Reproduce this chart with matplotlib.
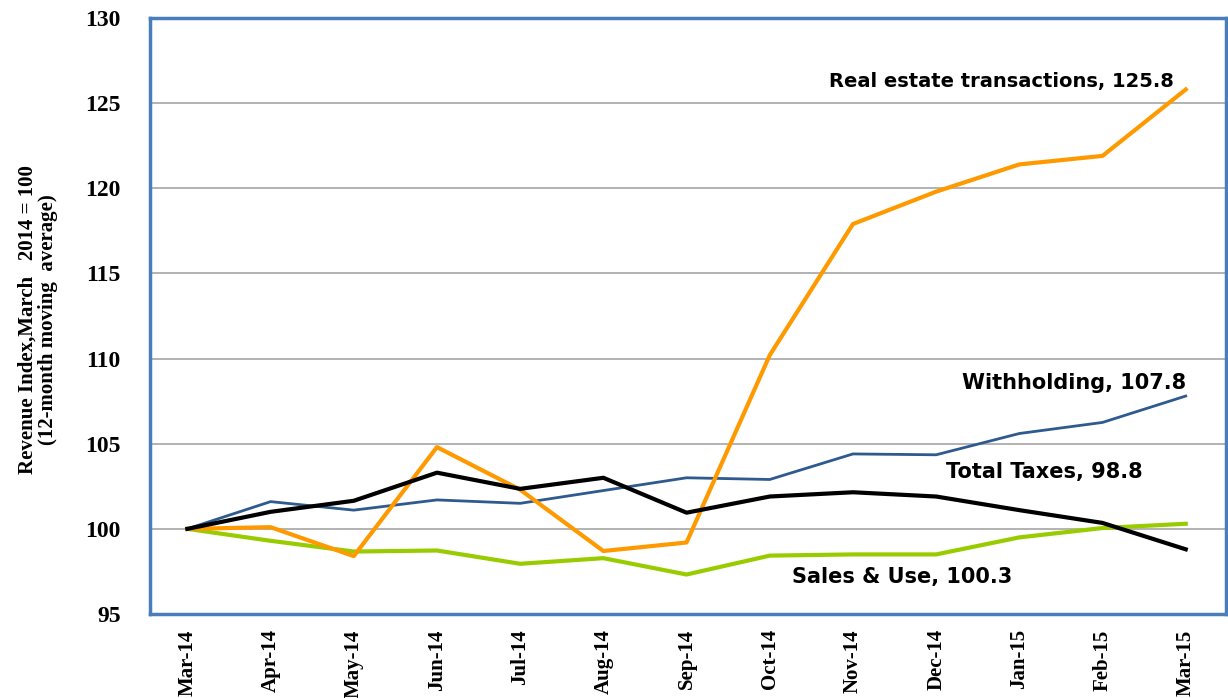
import matplotlib
matplotlib.use("Agg")
import matplotlib.pyplot as plt

months = ["Mar-14", "Apr-14", "May-14", "Jun-14", "Jul-14", "Aug-14", "Sep-14",
          "Oct-14", "Nov-14", "Dec-14", "Jan-15", "Feb-15", "Mar-15"]
real_estate = [100.0, 100.1, 98.4, 104.8, 102.3, 98.7, 99.2, 110.2, 117.9, 119.8, 121.4, 121.9, 125.8]
withholding = [100.0, 101.6, 101.1, 101.7, 101.5, 102.25, 103.0, 102.9, 104.4, 104.35, 105.6, 106.25, 107.8]
total_taxes = [100.0, 101.0, 101.65, 103.3, 102.35, 103.0, 100.95, 101.9, 102.15, 101.9, 101.1, 100.35, 98.8]
sales_use = [100.0, 99.3, 98.67, 98.73, 97.95, 98.28, 97.32, 98.43, 98.5, 98.5, 99.5, 100.05, 100.3]
y_ticks = [95, 100, 105, 110, 115, 120, 125, 130]

fig = plt.figure(figsize=(12.28, 6.98), dpi=100)
ax = fig.add_axes([0.1221, 0.1203, 0.876, 0.854])
x = list(range(len(months)))

ax.plot(x, withholding, color="#2E5A8E", lw=2.0, zorder=3)
ax.plot(x, sales_use, color="#99CC00", lw=3.0, zorder=3)
ax.plot(x, real_estate, color="#FF9900", lw=3.0, zorder=4)
ax.plot(x, total_taxes, color="#000000", lw=3.0, zorder=5)

ax.set_xlim(-0.45, 12.48)
ax.set_ylim(95, 130)
ax.set_yticks(y_ticks)
ax.set_xticks(x)
ax.set_xticklabels(months, rotation=90, fontfamily="Liberation Serif", fontweight="bold", fontsize=15)
ax.set_yticklabels([str(t) for t in y_ticks], fontfamily="Liberation Serif", fontweight="bold", fontsize=17)
ax.tick_params(axis="y", length=0, pad=21)
ax.tick_params(axis="x", length=0, pad=11)
ax.grid(axis="y", color="#A6A6A6", lw=1.2)
ax.set_axisbelow(True)
for s in ax.spines.values():
    s.set_color("#4A7EBB")
    s.set_linewidth(2.5)

fig.text(38 / 1228, 1 - 320 / 698, "Revenue Index,March   2014 = 100\n(12-month moving  average)",
         rotation=90, ha="center", va="center", multialignment="center",
         fontfamily="Liberation Serif", fontweight="bold", fontsize=15, linespacing=1.05)

ax.text(11.86, 126.24, "Real estate transactions, 125.8", ha="right", va="center",
        fontfamily="DejaVu Sans", fontweight="bold", fontsize=14, color="black")
lab_font = dict(fontfamily="DejaVu Sans Condensed", fontweight="bold", fontsize=15, color="black")
ax.text(12.01, 108.57, "Withholding, 107.8", ha="right", va="center", **lab_font)
ax.text(11.48, 103.34, "Total Taxes, 98.8", ha="right", va="center", **lab_font)
ax.text(7.27, 97.18, "Sales & Use, 100.3", ha="left", va="center", **lab_font)

fig.savefig("out.png", dpi=100)
